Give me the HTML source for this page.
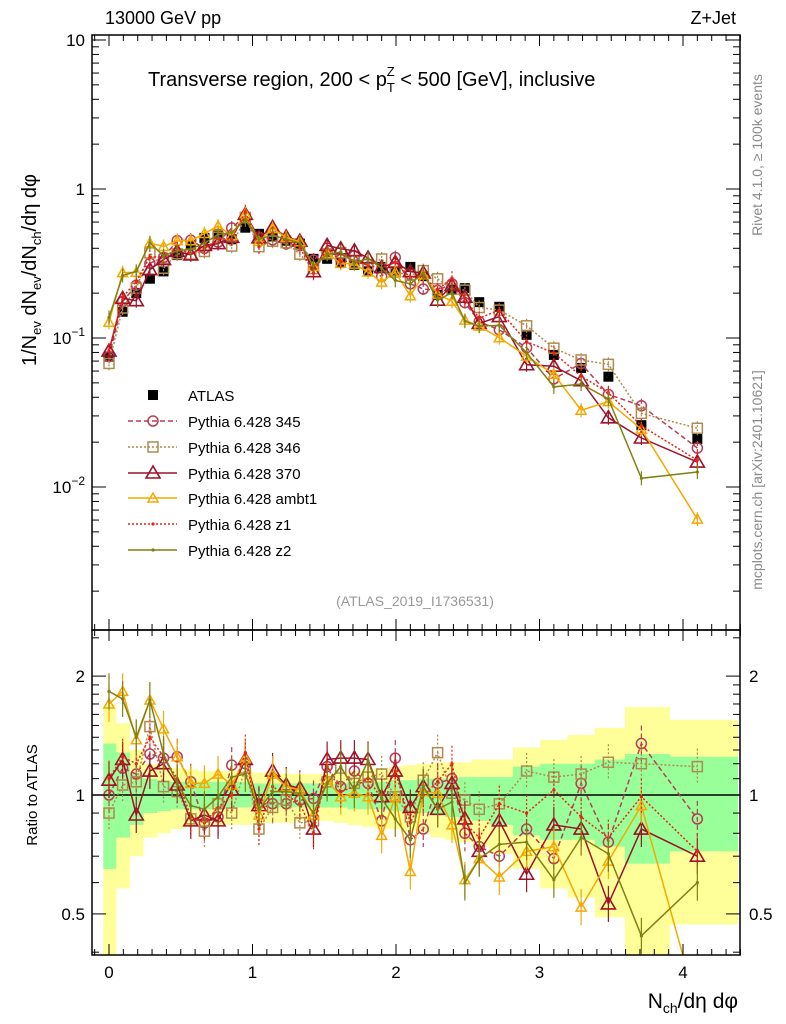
<!DOCTYPE html>
<html><head><meta charset="utf-8"><style>
body{margin:0;background:#fff;}
svg{display:block;font-family:"Liberation Sans",sans-serif;}
</style></head><body>
<svg id="c" width="786" height="1024" xmlns="http://www.w3.org/2000/svg"></svg>
<script>
const xs=[0,0.095,0.19,0.285,0.38,0.475,0.57,0.665,0.76,0.855,0.95,1.045,1.14,1.235,1.33,1.425,1.52,1.615,1.71,1.805,1.9,1.995,2.10,2.19,2.29,2.39,2.48,2.58,2.72,2.91,3.10,3.29,3.48,3.71,4.10];
const atlas=[0.075,0.15,0.2,0.25,0.28,0.36,0.42,0.47,0.5,0.46,0.55,0.5,0.48,0.45,0.43,0.34,0.34,0.32,0.31,0.28,0.3,0.28,0.3,0.26,0.195,0.21,0.216,0.174,0.162,0.105,0.077,0.063,0.055,0.026,0.021];
const bandYHi=[1.69,1.52,1.3,1.2,1.18,1.17,1.16,1.15,1.15,1.15,1.15,1.14,1.14,1.13,1.13,1.13,1.13,1.14,1.15,1.16,1.17,1.18,1.19,1.2,1.21,1.21,1.21,1.23,1.23,1.32,1.38,1.42,1.48,1.67,1.55];
const bandYLo=[0.35,0.58,0.70,0.78,0.80,0.82,0.83,0.83,0.84,0.84,0.84,0.85,0.85,0.85,0.86,0.86,0.86,0.85,0.84,0.83,0.82,0.82,0.81,0.8,0.78,0.77,0.76,0.74,0.71,0.65,0.58,0.55,0.49,0.39,0.47];
const bandGHi=[1.35,1.28,1.14,1.10,1.09,1.08,1.08,1.08,1.08,1.08,1.08,1.07,1.07,1.07,1.07,1.07,1.07,1.07,1.08,1.08,1.08,1.09,1.09,1.1,1.1,1.1,1.11,1.11,1.11,1.18,1.2,1.2,1.23,1.27,1.25];
const bandGLo=[0.65,0.78,0.84,0.90,0.91,0.92,0.92,0.92,0.93,0.93,0.93,0.93,0.93,0.93,0.93,0.93,0.93,0.93,0.92,0.92,0.92,0.91,0.9,0.9,0.89,0.88,0.87,0.86,0.84,0.79,0.77,0.77,0.74,0.67,0.72];
const r345=[1.0,1.17,1.13,1.27,1.24,1.25,1.08,0.85,0.88,1.19,1.2,0.95,0.95,0.95,0.97,0.98,1.18,1.05,1.15,1.07,0.86,1.24,0.77,0.82,1.07,1.1,0.80,0.74,0.70,0.82,0.69,1.07,0.76,1.35,0.87];
const r346=[0.90,1.06,1.08,1.49,1.05,1.02,0.87,0.81,0.95,0.90,1.17,0.82,0.93,0.97,0.85,0.86,1.08,1.17,1.07,1.11,1.13,0.99,0.88,1.09,1.28,1.01,0.97,0.92,0.95,1.15,1.11,1.13,1.21,1.20,1.18];
const r370=[1.09,1.23,0.89,1.15,1.2,1.06,0.86,0.89,0.86,1.03,1.23,0.94,1.15,1.06,1.04,0.82,1.23,1.24,1.24,1.23,0.99,1.15,0.93,1.05,0.92,1.07,0.87,0.72,0.86,0.63,0.84,0.82,0.53,0.82,0.70];
const rambt1=[1.7,1.83,1.38,1.74,1.47,1.25,1.07,1.07,1.13,1.06,1.24,0.89,1.13,1.05,1.03,0.89,1.09,0.99,1.01,0.99,0.79,0.99,0.64,1.02,1.01,0.84,0.61,0.69,0.62,0.72,0.74,0.52,0.68,0.94,0.29];
const rz1=[1.1,1.25,1.2,1.4,1.25,1.1,0.88,0.85,0.93,1.0,1.28,0.82,1.05,1.0,0.95,0.80,1.18,1.02,1.05,1.1,0.98,1.15,0.85,1.0,1.08,1.2,0.85,0.78,0.95,0.9,1.03,0.88,0.78,0.99,0.72];
const rz2=[1.83,1.75,1.4,1.74,1.27,1.07,0.94,0.92,0.99,1.11,1.13,0.92,1.02,1.02,1.01,0.90,1.07,1.18,1.03,1.22,0.98,0.87,0.77,1.05,0.92,0.96,0.60,0.69,0.75,0.76,0.61,0.78,0.71,0.44,0.60];
const xTicks=[0,1,2,3,4];

const S=document.getElementById('c');
const NS='http://www.w3.org/2000/svg';
function mk(t,a,p){const e=document.createElementNS(NS,t);for(const k in a)e.setAttribute(k,a[k]);(p||S).appendChild(e);return e;}
const L=92,R=740,T=35,M=630,B=955;
const X=v=>109+143.5*v;
const Ym=v=>189-149*Math.log10(v);
const Yr=v=>795-395*Math.log10(v);
const clipM=mk('clipPath',{id:'cm'});mk('rect',{x:L,y:T,width:R-L,height:M-T},clipM);
const clipR=mk('clipPath',{id:'cr'});mk('rect',{x:L,y:M,width:R-L,height:B-M},clipR);

// bands
const gB=mk('g',{'clip-path':'url(#cr)'});


function edges(i){const lo=i==0?xs[0]-0.04:(xs[i-1]+xs[i])/2;const hi=i==xs.length-1?4.38:(xs[i]+xs[i+1])/2;return [X(lo),X(hi)];}
for(let i=0;i<xs.length;i++){const [a,b]=edges(i);
 const ry=mk('rect',{x:a,y:Yr(bandYHi[i]),width:b-a+0.5,height:Yr(bandYLo[i])-Yr(bandYHi[i]),fill:'#ffff99'},gB);
 
 }
for(let i=0;i<xs.length;i++){const [a,b]=edges(i);
 const rg=mk('rect',{x:a,y:Yr(bandGHi[i]),width:b-a+0.5,height:Yr(bandGLo[i])-Yr(bandGHi[i]),fill:'#99ff99'},gB);
 
 }
mk('line',{x1:L,x2:R,y1:Yr(1),y2:Yr(1),stroke:'#000','stroke-width':1.5});

const models=[
 {n:'345',r:r345,c:'#b83c55',d:'5,3',m:'circle'},
 {n:'346',r:r346,c:'#b0894c',d:'2,2',m:'square'},
 {n:'370',r:r370,c:'#9c1228',d:'',m:'tri'},
 {n:'ambt1',r:rambt1,c:'#f5a800',d:'',m:'tri2'},
 {n:'z1',r:rz1,c:'#ee2010',d:'2,2',m:'dot'},
 {n:'z2',r:rz2,c:'#7f8012',d:'',m:'dot'}];
function marker(g,m,c,x,y){
 if(m=='circle')return mk('circle',{cx:x,cy:y,r:5,fill:'none',stroke:c,'stroke-width':1.5},g);
 if(m=='square')return mk('rect',{x:x-5,y:y-5,width:10,height:10,fill:'none',stroke:c,'stroke-width':1.5},g);
 if(m=='tri')return mk('polygon',{points:`${x},${y-7} ${x-7},${y+5} ${x+7},${y+5}`,fill:'none',stroke:c,'stroke-width':1.6},g);
 if(m=='tri2')return mk('polygon',{points:`${x},${y-5} ${x-5},${y+4} ${x+5},${y+4}`,fill:'none',stroke:c,'stroke-width':1.5},g);
 return mk('circle',{cx:x,cy:y,r:1.6,fill:c},g);}
function drawModel(md,panel){
 const g=mk('g',{'clip-path':panel=='main'?'url(#cm)':'url(#cr)'});
 
 
 const pts=xs.map((x,i)=>[X(x),panel=='main'?Ym(atlas[i]*md.r[i]):Yr(md.r[i])]);
 mk('polyline',{points:pts.map(p=>p.join(',')).join(' '),fill:'none',stroke:md.c,'stroke-width':1.5,'stroke-dasharray':md.d},g);
 pts.forEach((p,i)=>{const e=panel=='main'?7:18;
  mk('line',{x1:p[0],x2:p[0],y1:p[1]-e,y2:p[1]+e,stroke:md.c,'stroke-width':1.2,'stroke-dasharray':md.d},g);
  const mm=marker(g,md.m,md.c,p[0],p[1]);
  
  });}
models.forEach(md=>drawModel(md,'ratio'));
// atlas main
const gA=mk('g',{'clip-path':'url(#cm)'});


atlas.forEach((v,i)=>{const s=mk('rect',{x:X(xs[i])-5,y:Ym(v)-5,width:10,height:10,fill:'#000'},gA);
 
 });
models.forEach(md=>drawModel(md,'main'));

// frames
mk('rect',{x:L,y:T,width:R-L,height:M-T,fill:'none',stroke:'#000','stroke-width':1.5});
mk('rect',{x:L,y:M,width:R-L,height:B-M,fill:'none',stroke:'#000','stroke-width':1.5});
function tk(x1,y1,x2,y2){mk('line',{x1,y1,x2,y2,stroke:'#000','stroke-width':1});}
// x ticks
for(let v=-0.1;v<=4.4;v+=0.1){const x=X(Math.round(v*10)/10);const maj=Math.abs(v-Math.round(v))<0.01;const l=maj?11:6;
 tk(x,M,x,M-l);tk(x,T,x,T+l);tk(x,B,x,B-l);tk(x,M,x,M+l);}
function txt(s,x,y,opt){const t=mk('text',Object.assign({x,y,'font-size':17,fill:'#000'},opt||{}));t.innerHTML=s;return t;}
xTicks.forEach(v=>{const t=txt(v,X(v),978,{'text-anchor':'middle'});});
// main y ticks
for(let d=-3;d<=1;d++){for(let k=1;k<10;k++){const v=k*Math.pow(10,d);const y=Ym(v);if(y<T||y>M)continue;const l=k==1?14:7;tk(L,y,L+l,y);tk(R,y,R-l,y);}}
const yl=[[10,'10'],[1,'1'],[0.1,'10<tspan dy="-8" font-size="12">−1</tspan>'],[0.01,'10<tspan dy="-8" font-size="12">−2</tspan>']];
yl.forEach(a=>{const t=txt(a[1],85,Ym(a[0])+6,{'text-anchor':'end'});});
// ratio y ticks
[0.4,0.5,0.6,0.7,0.8,0.9,1,1.1,1.2,1.3,1.4,1.5,1.6,1.7,1.8,1.9,2,2.5].forEach(v=>{const y=Yr(v);if(y<M||y>B)return;const maj=(v==0.5||v==1||v==2);const l=maj?14:7;tk(L,y,L+l,y);tk(R,y,R-l,y);});
[[2,'2'],[1,'1'],[0.5,'0.5']].forEach(a=>{txt(a[1],85,Yr(a[0])+6,{'text-anchor':'end'});txt(a[1],749,Yr(a[0])+6);});

// texts
let t;
t=txt('13000 GeV pp',105,24,{'font-size':18});
t=txt('Z+Jet',736,24,{'font-size':18,'text-anchor':'end'});
t=txt('Transverse region, 200 &lt; p<tspan dy="6" font-size="13">T</tspan><tspan dy="-16" dx="-8" font-size="13">Z</tspan><tspan dy="10"> &lt; 500 [GeV], inclusive</tspan>',148,86,{'font-size':20});

t=txt('(ATLAS_2019_I1736531)',415,606,{'font-size':14,fill:'#999','text-anchor':'middle'});
t=txt('1/N<tspan dy="5" font-size="13">ev</tspan><tspan dy="-5"> dN</tspan><tspan dy="5" font-size="13">ev</tspan><tspan dy="-5">/dN</tspan><tspan dy="5" font-size="13">ch</tspan><tspan dy="-5">/dη dφ</tspan>',0,0,{'font-size':20,transform:'translate(36,270) rotate(-90)','text-anchor':'middle'});

t=txt('Ratio to ATLAS',0,0,{'font-size':15,transform:'translate(37,795) rotate(-90)','text-anchor':'middle'});
t=txt('N<tspan dy="5" font-size="14">ch</tspan><tspan dy="-5">/dη dφ</tspan>',738,1008,{'font-size':21,'text-anchor':'end'});
t=txt('Rivet 4.1.0, ≥ 100k events',0,0,{'font-size':14,fill:'#888',transform:'translate(762,155) rotate(-90)','text-anchor':'middle'});
t=txt('mcplots.cern.ch [arXiv:2401.10621]',0,0,{'font-size':14,fill:'#888',transform:'translate(762,480) rotate(-90)','text-anchor':'middle'});

// legend
const lg=mk('g',{});
const ly=[395,421,447,473,498,524,550];
mk('rect',{x:148,y:ly[0]-5,width:10,height:10,fill:'#000'},lg);
t=txt('ATLAS',188,ly[0]+6,{'font-size':15});lg.appendChild(t);
models.forEach((md,i)=>{const y=ly[i+1];const e=mk('g',{},lg);
 
 
 mk('line',{x1:128,x2:177,y1:y,y2:y,stroke:md.c,'stroke-width':1.5,'stroke-dasharray':md.d},e);
 marker(e,md.m,md.c,153,y);
 const tt=txt('Pythia 6.428 '+md.n,188,y+6,{'font-size':15});e.appendChild(tt);});
</script>
</body></html>
